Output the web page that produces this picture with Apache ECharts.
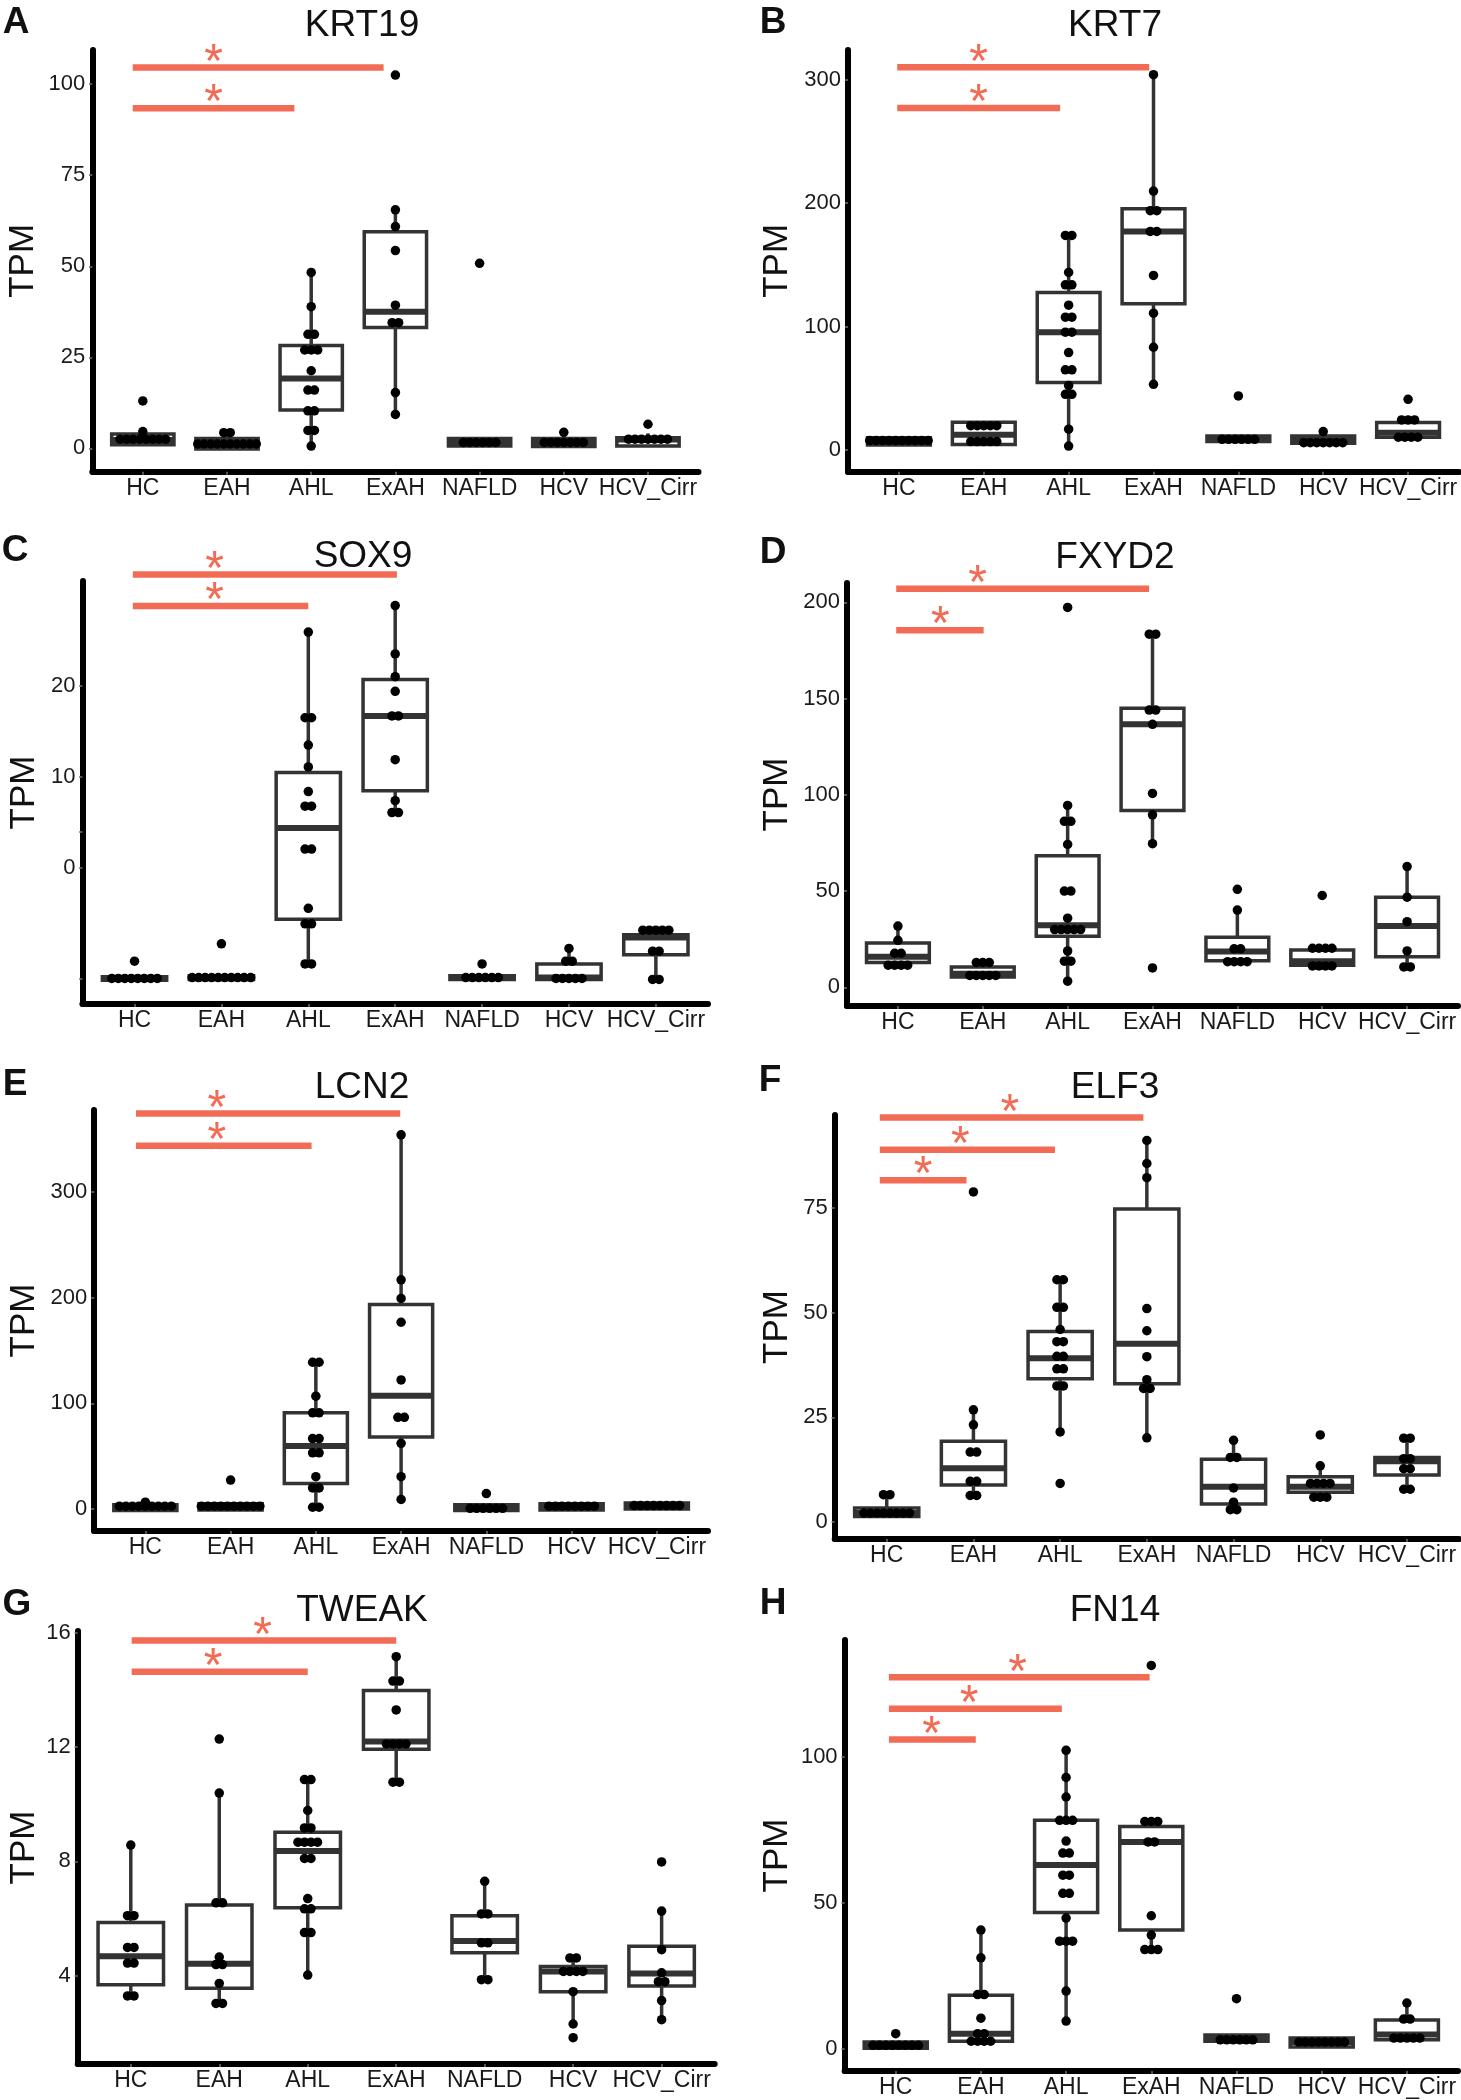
<!DOCTYPE html>
<html><head><meta charset="utf-8">
<script src="https://cdn.jsdelivr.net/npm/echarts@6/dist/echarts.min.js"></script>
<style>html,body{margin:0;padding:0;background:#fff}#c{width:1461px;height:2100px}</style>
</head><body><div id="c"></div>
<script>
const categories = ['HC', 'EAH', 'AHL', 'ExAH', 'NAFLD', 'HCV', 'HCV_Cirr'];

// ---- A: KRT19 ----
const krt19Points = [
  [13.0, 4.6, 2.5, 2.5, 2.5, 2.5, 2.5, 2.5, 2.5, 2.5],
  [4.3, 4.3, 1.2, 1.2, 1.2, 1.2, 1.2, 1.2, 1.2, 1.2, 1.2, 1.2],
  [48.3, 38.9, 31.3, 31.3, 27.0, 27.0, 27.0, 21.3, 16.0, 16.0, 10.3, 10.3, 4.9, 4.9, 0.6],
  [102.5, 65.5, 60.9, 54.3, 39.3, 34.5, 34.5, 15.3, 9.3],
  [50.8, 1.6, 1.6, 1.6, 1.6, 1.6, 1.6],
  [4.4, 1.6, 1.6, 1.6, 1.6, 1.6, 1.6, 1.6],
  [6.6, 2.5, 2.5, 2.5, 2.5, 2.5, 2.5, 2.5]
];
const krt19Boxes = [[0.8, 1.0, 2.3, 3.9, 4.6], [-0.2, -0.2, 1.2, 2.7, 4.3], [0.6, 10.5, 19.2, 28.2, 48.3], [9.3, 33.2, 37.5, 59.5, 65.5], [0.6, 0.6, 1.6, 2.7, 2.7], [0.5, 0.5, 1.6, 2.7, 4.4], [0.6, 0.6, 2.4, 2.9, 4.1]];
const krt19Sig = [[-0.12, 2.86, 104.6, 0.84], [-0.12, 1.80, 93.4, 0.84]];
const krt19Ticks = [0, 25, 50, 75, 100];
const krt19YRange = [-6.43, 109.4];

// ---- B: KRT7 ----
const krt7Points = [
  [7.6, 7.6, 7.6, 7.6, 7.6, 7.6, 7.6, 7.6, 7.6, 7.6],
  [19.7, 19.7, 19.7, 19.7, 19.7, 6.8, 6.8, 6.8, 6.8, 6.8],
  [173.8, 173.8, 143.8, 133.8, 133.8, 117.3, 107.6, 107.6, 95.4, 95.4, 78.9, 64.9, 64.9, 52.2, 45.1, 45.1, 16.8, 3.2],
  [304, 209.7, 193.8, 193.8, 177, 177, 141.4, 110.8, 83.2, 53.2],
  [43.8, 8.6, 8.6, 8.6, 8.6, 8.6, 8.6],
  [14.9, 5.9, 5.9, 5.9, 5.9, 5.9, 5.9, 5.9],
  [41, 24.3, 24.3, 24.3, 10.3, 10.3, 10.3, 10.3]
];
const krt7Boxes = [[4.1, 4.1, 7.6, 10.0, 10.0], [4.5, 4.5, 12.4, 22.5, 22.5], [3.2, 54.6, 95.4, 127.6, 173.8], [53.2, 118.4, 177.0, 195.4, 304], [6.8, 6.8, 9.5, 11.4, 11.4], [5.4, 5.4, 8.0, 11.4, 14.9], [10.3, 10.3, 14.0, 22.2, 24.3]];
const krt7Sig = [[-0.02, 2.95, 310, 0.94], [-0.02, 1.90, 277, 0.94]];
const krt7Ticks = [0, 100, 200, 300];
const krt7YRange = [-17.6, 324];

// ---- C: SOX9 ----
const sox9Points = [
  [-10.2, -12.1, -12.1, -12.1, -12.1, -12.1, -12.1, -12.1, -12.1],
  [-8.3, -12.0, -12.0, -12.0, -12.0, -12.0, -12.0, -12.0, -12.0, -12.0, -12.0],
  [25.9, 16.5, 16.5, 13.5, 11.1, 8.4, 6.8, 6.8, 2.1, 2.1, -4.4, -6.1, -6.1, -10.5, -10.5],
  [28.8, 23.5, 21.0, 19.4, 16.7, 16.7, 11.9, 7.4, 6.1, 6.1],
  [-10.5, -12.0, -12.0, -12.0, -12.0, -12.0, -12.0],
  [-8.8, -10.2, -10.2, -12.1, -12.1, -12.1, -12.1, -12.1],
  [-6.8, -6.8, -6.8, -6.8, -6.8, -9.1, -9.1, -12.2, -12.2]
];
const sox9Boxes = [[-12.3, -12.3, -12.1, -11.9, -11.9], [-12.2, -12.2, -12.0, -11.8, -11.8], [-10.5, -5.6, 4.4, 10.5, 25.9], [6.1, 8.5, 16.7, 20.7, 28.8], [-12.2, -12.2, -12.0, -11.8, -11.8], [-12.2, -12.2, -12.0, -10.5, -8.8], [-12.2, -9.5, -7.6, -7.3, -6.5]];
const sox9Sig = [[-0.02, 3.02, 32.2, 0.92], [-0.02, 2.0, 28.75, 0.92]];
const sox9Ticks = [0, 10, 20];
const sox9TickMarks = [-12.1, 0, 4, 10, 20];
const sox9YRange = [-14.9, 31.5];

// ---- D: FXYD2 ----
const fxyd2Points = [
  [31.8, 24.4, 17.7, 17.7, 11.5, 11.5, 11.5, 11.5],
  [12.9, 12.9, 12.9, 6.2, 6.2, 6.2, 6.2, 6.2],
  [197.3, 94.5, 86.2, 86.2, 74.2, 50, 50, 35.9, 30.0, 30.0, 30.0, 30.0, 30.0, 18.9, 13.6, 13.6, 3.2],
  [183.4, 183.4, 144, 144, 136.6, 100.7, 89.6, 74.6, 10.1],
  [50.9, 40.1, 20.0, 20.0, 13.3, 13.3, 13.3, 13.3],
  [47.7, 20.3, 20.3, 20.3, 20.3, 11.1, 11.1, 11.1, 11.1],
  [62.7, 46.8, 34.1, 18.9, 10.6, 10.6]
];
const fxyd2Boxes = [[9.7, 12.9, 15.9, 23.0, 31.8], [5.3, 5.3, 7.1, 10.6, 12.9], [3.2, 26.5, 32.3, 68.4, 94.5], [74.6, 91.9, 136.6, 144.9, 183.4], [13.3, 13.8, 18.6, 26.0, 40.1], [11.1, 11.5, 13.5, 19.4, 20.3], [10.6, 15.9, 31.8, 46.8, 62.7]];
const fxyd2Sig = [[-0.02, 2.96, 207, 0.94], [-0.02, 1.01, 185.5, 0.5]];
const fxyd2Ticks = [0, 50, 100, 150, 200];
const fxyd2YRange = [-9.7, 210];

// ---- E: LCN2 ----
const lcn2Points = [
  [6.4, 2.6, 2.6, 2.6, 2.6, 2.6, 2.6, 2.6, 2.6, 2.6],
  [27.3, 2.6, 2.6, 2.6, 2.6, 2.6, 2.6, 2.6, 2.6, 2.6, 2.6],
  [138.9, 138.9, 106.8, 91, 91, 66.6, 66.6, 53.1, 53.1, 30.5, 19.9, 19.9, 1.6, 1.6],
  [354.3, 217, 199.4, 176.8, 122.2, 86.8, 86.8, 62.1, 30.5, 9.0],
  [14.5, 0.6, 0.6, 0.6, 0.6, 0.6, 0.6],
  [2.6, 2.6, 2.6, 2.6, 2.6, 2.6, 2.6, 2.6],
  [3.2, 3.2, 3.2, 3.2, 3.2, 3.2, 3.2, 3.2]
];
const lcn2Boxes = [[-1.6, -1.6, 1.6, 3.9, 3.9], [-1.0, -1.0, 2.3, 4.8, 4.8], [1.6, 24.1, 59.5, 91.0, 138.9], [9.0, 68.2, 107.1, 193.6, 354.3], [-1.6, -1.6, 0.6, 3.9, 3.9], [-1.0, -1.0, 2.3, 4.8, 4.8], [0, 0, 3.2, 5.5, 5.5]];
const lcn2Sig = [[-0.11, 2.99, 374.6, 0.84], [-0.11, 1.95, 344, 0.84]];
const lcn2Ticks = [0, 100, 200, 300];
const lcn2YRange = [-20.9, 377.8];

// ---- F: ELF3 ----
const elf3Points = [
  [6.5, 6.5, 2.1, 2.1, 2.1, 2.1, 2.1, 2.1, 2.1, 2.1],
  [78.9, 26.8, 23.2, 16.7, 16.7, 9.7, 9.7, 6.3, 6.3],
  [57.9, 57.9, 51.3, 51.3, 46, 43.1, 43.1, 39.6, 39.6, 36.6, 36.6, 32.5, 32.5, 21.5, 9.2],
  [91.2, 85.7, 82.3, 51, 45.7, 39.5, 34, 31.9, 31.9, 20.1],
  [19.5, 15.4, 15.4, 8.1, 4.7, 2.9, 2.9],
  [20.8, 13.4, 9.2, 9.2, 9.2, 9.2, 5.9, 5.9, 5.9],
  [20, 20, 15.1, 15.1, 12.7, 12.7, 7.8, 7.8]
];
const elf3Boxes = [[1.3, 1.3, 2.1, 3.3, 6.3], [6.3, 8.8, 12.8, 19.3, 26.8], [21.5, 34.2, 39.1, 45.5, 57.9], [20.1, 33.0, 42.6, 74.8, 91.2], [2.1, 4.3, 8.4, 15.0, 19.5], [5.5, 7.1, 8.4, 10.8, 13.4], [7.1, 11.2, 14.5, 15.4, 20.0]];
const elf3Sig = [[-0.08, 2.96, 96.7, 1.42], [-0.08, 1.94, 89.0, 0.85], [-0.08, 0.92, 81.7, 0.42]];
const elf3Ticks = [0, 25, 50, 75];
const elf3YRange = [-4.1, 97.3];

// ---- G: TWEAK ----
const tweakPoints = [
  [8.57, 6.10, 6.10, 4.99, 4.99, 4.44, 4.44, 3.29, 3.29],
  [12.28, 10.39, 6.55, 6.55, 4.65, 4.39, 4.39, 3.73, 3.03, 3.03],
  [10.86, 10.86, 9.78, 9.17, 9.17, 8.67, 8.67, 8.67, 8.67, 8.10, 8.10, 6.70, 6.34, 6.34, 5.51, 5.51, 4.02],
  [15.16, 14.31, 14.31, 13.30, 12.11, 12.11, 12.11, 12.11, 10.77, 10.77],
  [7.30, 6.16, 6.16, 5.15, 5.15, 3.86, 3.86],
  [4.62, 4.62, 4.15, 4.15, 4.15, 4.15, 3.44, 2.31, 1.83],
  [7.98, 6.26, 4.91, 4.10, 3.79, 3.79, 3.13, 2.46]
];
const tweakBoxes = [[3.29, 3.68, 4.68, 5.86, 8.57], [3.05, 3.56, 4.42, 6.47, 10.39], [4.02, 6.38, 8.36, 9.02, 10.86], [10.77, 11.92, 12.19, 13.98, 15.16], [3.86, 4.80, 5.21, 6.10, 7.30], [2.31, 3.44, 4.15, 4.32, 4.62], [2.46, 3.64, 4.08, 5.03, 6.26]];
const tweakSig = [[0.01, 3.0, 15.73, 1.49], [0.01, 2.0, 14.63, 0.93]];
const tweakTicks = [4, 8, 12, 16];
const tweakYRange = [0.91, 16.06];

// ---- H: FN14 ----
const fn14Points = [
  [5.2, 1.2, 1.2, 1.2, 1.2, 1.2, 1.2, 1.2, 1.2],
  [40.7, 31.2, 18.6, 18.6, 10.5, 5.2, 5.2, 2.6, 2.6, 2.6, 2.6],
  [102.3, 93, 86.3, 78.3, 78.3, 78.3, 71.2, 67.1, 67.1, 59.5, 59.5, 53.3, 53.3, 44.8, 36.9, 36.9, 36.9, 19.8, 9.5],
  [131.4, 77.9, 77.9, 77.9, 70.9, 70.9, 45.6, 39.0, 34.0, 34.0, 34.0],
  [17.2, 3.1, 3.1, 3.1, 3.1, 3.1, 3.1],
  [2.3, 2.3, 2.3, 2.3, 2.3, 2.3, 2.3, 2.3],
  [15.7, 10.2, 10.2, 3.7, 3.7, 3.7, 3.7, 3.7]
];
const fn14Boxes = [[0.2, 0.2, 1.2, 2.3, 2.3], [1.5, 2.6, 5.2, 18.4, 40.7], [9.5, 46.7, 63.0, 78.3, 102.3], [34.0, 40.7, 70.9, 76.2, 77.9], [2.6, 2.6, 3.5, 4.7, 4.7], [0.6, 0.6, 2.3, 3.7, 3.7], [3.1, 3.1, 4.9, 9.9, 15.7]];
const fn14Sig = [[-0.08, 2.98, 127.3, 1.43], [-0.08, 1.95, 116.5, 0.86], [-0.08, 0.94, 106.0, 0.42]];
const fn14Ticks = [0, 50, 100];
const fn14YRange = [-7.6, 140.1];

const panels = [
  { letter: 'A', gene: 'KRT19', points: krt19Points, boxes: krt19Boxes, sig: krt19Sig, ticks: krt19Ticks, range: krt19YRange },
  { letter: 'B', gene: 'KRT7', points: krt7Points, boxes: krt7Boxes, sig: krt7Sig, ticks: krt7Ticks, range: krt7YRange },
  { letter: 'C', gene: 'SOX9', points: sox9Points, boxes: sox9Boxes, sig: sox9Sig, ticks: sox9Ticks, tickMarks: sox9TickMarks, range: sox9YRange },
  { letter: 'D', gene: 'FXYD2', points: fxyd2Points, boxes: fxyd2Boxes, sig: fxyd2Sig, ticks: fxyd2Ticks, range: fxyd2YRange },
  { letter: 'E', gene: 'LCN2', points: lcn2Points, boxes: lcn2Boxes, sig: lcn2Sig, ticks: lcn2Ticks, range: lcn2YRange },
  { letter: 'F', gene: 'ELF3', points: elf3Points, boxes: elf3Boxes, sig: elf3Sig, ticks: elf3Ticks, range: elf3YRange },
  { letter: 'G', gene: 'TWEAK', points: tweakPoints, boxes: tweakBoxes, sig: tweakSig, ticks: tweakTicks, range: tweakYRange },
  { letter: 'H', gene: 'FN14', points: fn14Points, boxes: fn14Boxes, sig: fn14Sig, ticks: fn14Ticks, range: fn14YRange }
];

// ---- layout (pixels) ----
const panelLayout = [
  { left: 92.3, top: 50, right: 698.5, bottom: 471.7, titleX: 362, titleY: 26, letterX: 16, letterY: 23, nameGap: 51 },
  { left: 848, top: 50, right: 1459, bottom: 471.7, titleX: 1115, titleY: 26, letterX: 773, letterY: 23, nameGap: 53.5 },
  { left: 82.4, top: 581, right: 708, bottom: 1004, titleX: 363, titleY: 557, letterX: 15, letterY: 551, nameGap: 41 },
  { left: 847, top: 583, right: 1458, bottom: 1006, titleX: 1115, titleY: 558, letterX: 773, letterY: 553, nameGap: 52.5 },
  { left: 94.2, top: 1110, right: 708, bottom: 1531, titleX: 362, titleY: 1088, letterX: 15, letterY: 1085, nameGap: 52.7 },
  { left: 834.7, top: 1115, right: 1459, bottom: 1539, titleX: 1115, titleY: 1088, letterX: 770, letterY: 1081, nameGap: 40.2 },
  { left: 77.7, top: 1631, right: 714.7, bottom: 2064, titleX: 362, titleY: 1611, letterX: 17, letterY: 1605, nameGap: 36.2 },
  { left: 844.6, top: 1640, right: 1458, bottom: 2071, titleX: 1115, titleY: 1611, letterX: 773, letterY: 1604, nameGap: 50.1 }
];

const FONT = "'Liberation Sans', Arial, Helvetica, sans-serif";
const RED = '#f26c55';
const BOXCOL = '#333333';
const BOX_W = 0.74;
const DOT_PX = 6.5;

function dotOffsets(vals, dx) {
  const counts = {};
  vals.forEach(v => { counts[v] = (counts[v] || 0) + 1; });
  const seen = {};
  return vals.map(v => {
    seen[v] = seen[v] === undefined ? 0 : seen[v] + 1;
    return (seen[v] - (counts[v] - 1) / 2) * dx;
  });
}

function renderBox(params, api) {
  const x = api.value(0);
  const pLo = api.coord([x, api.value(1)]);
  const pQ1 = api.coord([x, api.value(2)]);
  const pMed = api.coord([x, api.value(3)]);
  const pQ3 = api.coord([x, api.value(4)]);
  const pHi = api.coord([x, api.value(5)]);
  const half = api.size([BOX_W, 0])[0] / 2;
  const ls = { stroke: BOXCOL, lineWidth: 3.5 };
  return {
    type: 'group',
    children: [
      { type: 'line', shape: { x1: pHi[0], y1: pHi[1], x2: pQ3[0], y2: pQ3[1] }, style: ls },
      { type: 'line', shape: { x1: pQ1[0], y1: pQ1[1], x2: pLo[0], y2: pLo[1] }, style: ls },
      { type: 'rect', shape: { x: pQ3[0] - half, y: pQ3[1], width: 2 * half, height: Math.max(pQ1[1] - pQ3[1], 0.5) },
        style: { fill: '#fff', stroke: BOXCOL, lineWidth: 3.5 } },
      { type: 'line', shape: { x1: pMed[0] - half, y1: pMed[1], x2: pMed[0] + half, y2: pMed[1] },
        style: { stroke: BOXCOL, lineWidth: 6 } }
    ]
  };
}

function renderSig(params, api) {
  const y = api.value(2);
  const a = api.coord([api.value(0), y]);
  const b = api.coord([api.value(1), y]);
  const s = api.coord([api.value(3), y]);
  return {
    type: 'group',
    children: [
      { type: 'line', shape: { x1: a[0], y1: a[1], x2: b[0], y2: b[1] }, style: { stroke: RED, lineWidth: 6.5 } },
      { type: 'text', x: s[0], y: s[1] - 4,
        style: { text: '*', fill: RED, fontSize: 48, fontFamily: FONT, align: 'center', verticalAlign: 'middle',
                 textAlign: 'center', textVerticalAlign: 'middle' } }
    ]
  };
}

const grid = [], xAxis = [], yAxis = [], series = [], graphic = [];
const catIdx = categories.map((c, i) => i);

panels.forEach((p, i) => {
  const L = panelLayout[i];
  grid.push({ left: L.left, top: L.top, width: L.right - L.left, height: L.bottom - L.top, containLabel: false, outerBoundsMode: 'none' });
  xAxis.push({
    type: 'value', gridIndex: i, min: -0.6, max: 6.6,
    axisLine: { onZero: false, lineStyle: { color: '#000', width: 6 } },
    axisTick: { show: true, customValues: catIdx, length: 3, lineStyle: { color: '#555', width: 2 } },
    axisLabel: { customValues: catIdx, formatter: v => categories[Math.round(v)] || '', fontSize: 23, margin: 5, color: '#1a1a1a', fontFamily: FONT },
    splitLine: { show: false }
  });
  yAxis.push({
    type: 'value', gridIndex: i, min: p.range[0], max: p.range[1],
    axisLine: { show: true, onZero: false, lineStyle: { color: '#000', width: 6 } },
    axisTick: { show: true, customValues: p.tickMarks || p.ticks, length: 3, lineStyle: { color: '#555', width: 2 } },
    axisLabel: { customValues: p.ticks, fontSize: 22, margin: 7, color: '#1a1a1a', fontFamily: FONT },
    splitLine: { show: false },
    name: 'TPM', nameLocation: 'middle', nameRotate: 90, nameGap: L.nameGap,
    nameTextStyle: { fontSize: 35, color: '#111', fontFamily: FONT }
  });
  series.push({
    type: 'custom', xAxisIndex: i, yAxisIndex: i, renderItem: renderBox, silent: true, z: 2,
    encode: { x: 0, y: [1, 2, 3, 4, 5] },
    data: p.boxes.map((b, k) => [k].concat(b))
  });
  const unitPx = (L.right - L.left) / 7.2;
  const dots = [];
  p.points.forEach((vals, k) => {
    const offs = dotOffsets(vals, DOT_PX / unitPx);
    vals.forEach((v, j) => dots.push([k + offs[j], v]));
  });
  series.push({
    type: 'scatter', xAxisIndex: i, yAxisIndex: i, symbol: 'circle', symbolSize: 9.5, silent: true, z: 3,
    itemStyle: { color: '#000', opacity: 1 }, data: dots
  });
  series.push({
    type: 'custom', xAxisIndex: i, yAxisIndex: i, renderItem: renderSig, silent: true, z: 4, clip: false,
    encode: { x: [0, 1, 3], y: 2 },
    data: p.sig
  });
  graphic.push({
    type: 'text', x: L.titleX, y: L.titleY, silent: true,
    style: { text: p.gene, fontSize: 37, fontFamily: FONT, fill: '#111', align: 'center', verticalAlign: 'middle', textAlign: 'center', textVerticalAlign: 'middle' }
  });
  graphic.push({
    type: 'text', x: L.letterX, y: L.letterY, silent: true,
    style: { text: p.letter, fontSize: 37, fontWeight: 'bold', fontFamily: FONT, fill: '#111', align: 'center', verticalAlign: 'middle', textAlign: 'center', textVerticalAlign: 'middle' }
  });
});

const chart = echarts.init(document.getElementById('c'), null, { renderer: 'canvas' });
chart.setOption({ animation: false, backgroundColor: '#fff', grid, xAxis, yAxis, series, graphic });
</script>
</body></html>
